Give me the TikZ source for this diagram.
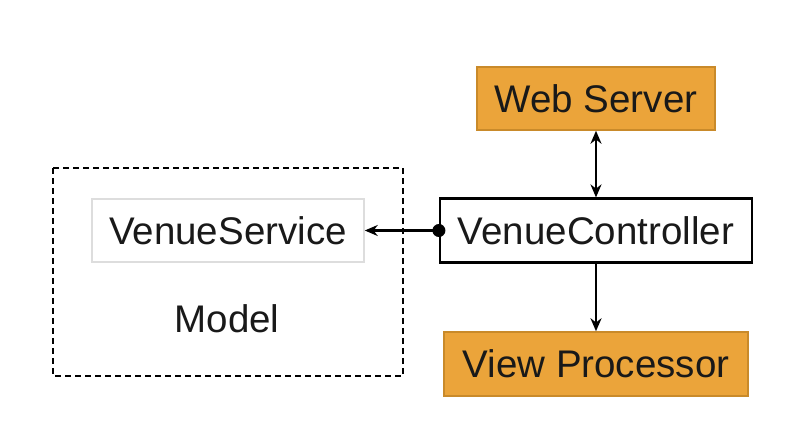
\documentclass[tikz,border=0pt]{standalone}
\usepackage{fontspec}
\setmainfont{Liberation Sans}
\usetikzlibrary{arrows.meta}
\definecolor{orangefill}{HTML}{EBA43A}
\definecolor{orangeline}{HTML}{C98A2A}
\definecolor{lightline}{HTML}{DDDDDD}
\begin{document}
\begin{tikzpicture}[x=1pt,y=-1pt,
  lbl/.style={font=\fontsize{38.5}{42}\selectfont, text=black!90},
  orangebox/.style={draw=orangeline, fill=orangefill, line width=1.5pt, lbl},
  tip/.style={Stealth[length=13pt,width=11pt]},
  conn/.style={line width=2.6pt, -{Stealth[length=13pt,width=11pt]}}]
\useasboundingbox (0,0) rectangle (800,432);
\fill[white] (0,0) rectangle (800,432);
\draw[line width=1.8pt, dash pattern=on 6pt off 4pt] (53,168) rectangle (403,376);
\node[draw=lightline, line width=1.5pt, minimum width=272pt, minimum height=63pt, lbl] (vs) at (228,230.5) {VenueService};
\node[lbl] (model) at (227,319) {Model};
\node[draw=black, line width=2.2pt, minimum width=312pt, minimum height=64pt, lbl] (vc) at (596,230.5) {VenueController};
\node[orangebox, minimum width=238pt, minimum height=63pt] (ws) at (596,98.5) {Web Server};
\node[orangebox, minimum width=304pt, minimum height=64pt] (vp) at (596,364) {View Processor};
\draw[conn, {Stealth[length=13pt,width=11pt]}-{Stealth[length=13pt,width=11pt]}] (ws.south) -- (vc.north);
\draw[conn] (vc.south) -- (vp.north);
\fill (vc.west) circle (6.5pt);
\draw[conn] (vc.west) -- (vs.east);
\end{tikzpicture}
\end{document}
